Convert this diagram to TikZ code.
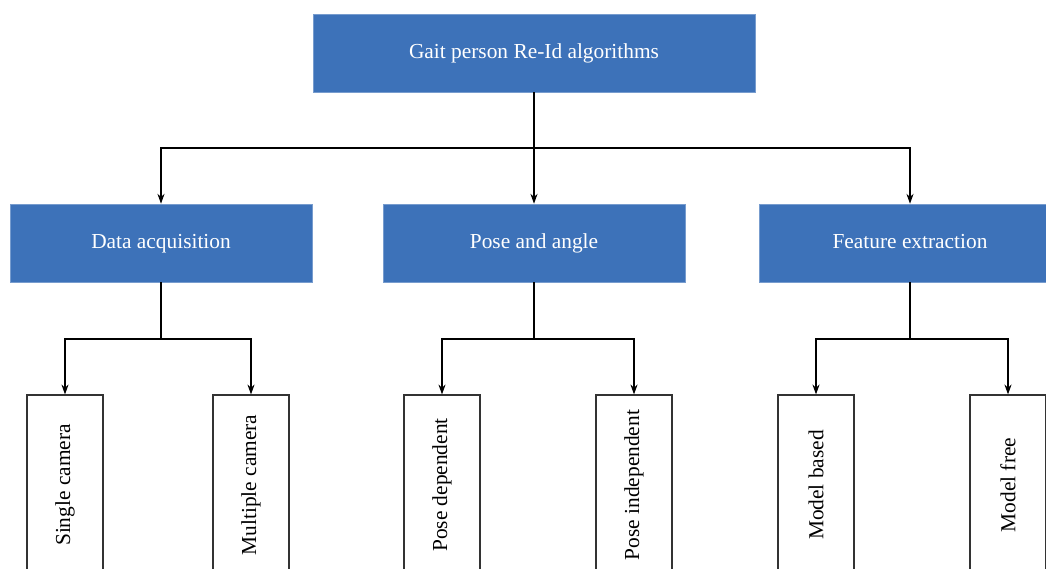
\documentclass[tikz,border=0pt]{standalone}
\usepackage{fontspec}
\setmainfont{Liberation Serif}
\usetikzlibrary{arrows.meta}
\definecolor{boxblue}{RGB}{61,114,185}

\begin{document}
\begin{tikzpicture}[x=0.025cm,y=-0.025cm,
  topbox/.style={fill=boxblue,draw=boxblue!70!white,text=white,inner sep=0pt,
    minimum width=11.05cm,minimum height=1.95cm,text height=0.8em,text depth=0pt,
    font=\fontsize{15.2}{18}\selectfont},
  catbox/.style={topbox,minimum width=7.55cm},
  leafbox/.style={draw=black!80,line width=0.8pt,fill=white,rotate=90,inner sep=0pt,
    minimum width=4.5cm,minimum height=1.9cm,font=\fontsize{15.2}{18}\selectfont},
  link/.style={line width=1.1pt},
  arr/.style={link,-{Stealth[length=7pt,width=5pt]}}]

\clip (0,0) rectangle (1046,568);
\useasboundingbox (0,0) rectangle (1046,568);

% top level
\node[topbox] (root) at (534,53) {Gait person Re-Id algorithms};

% categories
\node[catbox] (data) at (161,243) {Data acquisition};
\node[catbox] (pose) at (534,243) {Pose and angle};
\node[catbox] (feat) at (910,243) {Feature extraction};

\coordinate (j0) at (534,148);
\draw[link] (root) -- (j0);
\draw[arr] (j0) -| (data);
\draw[arr] (j0) -- (pose);
\draw[arr] (j0) -| (feat);

% leaves
\node[leafbox] (single) at (65,485) {Single camera};
\node[leafbox] (multi) at (251,485) {Multiple camera};
\node[leafbox] (posedep) at (442,485) {Pose dependent};
\node[leafbox] (poseind) at (634,485) {Pose independent};
\node[leafbox] (mbased) at (816,485) {Model based};
\node[leafbox] (mfree) at (1008,485) {Model free};

\coordinate (jd) at (161,339);
\coordinate (jp) at (534,339);
\coordinate (jf) at (910,339);

\draw[link] (data) -- (jd);
\draw[arr] (jd) -| (single);
\draw[arr] (jd) -| (multi);

\draw[link] (pose) -- (jp);
\draw[arr] (jp) -| (posedep);
\draw[arr] (jp) -| (poseind);

\draw[link] (feat) -- (jf);
\draw[arr] (jf) -| (mbased);
\draw[arr] (jf) -| (mfree);

\end{tikzpicture}
\end{document}
